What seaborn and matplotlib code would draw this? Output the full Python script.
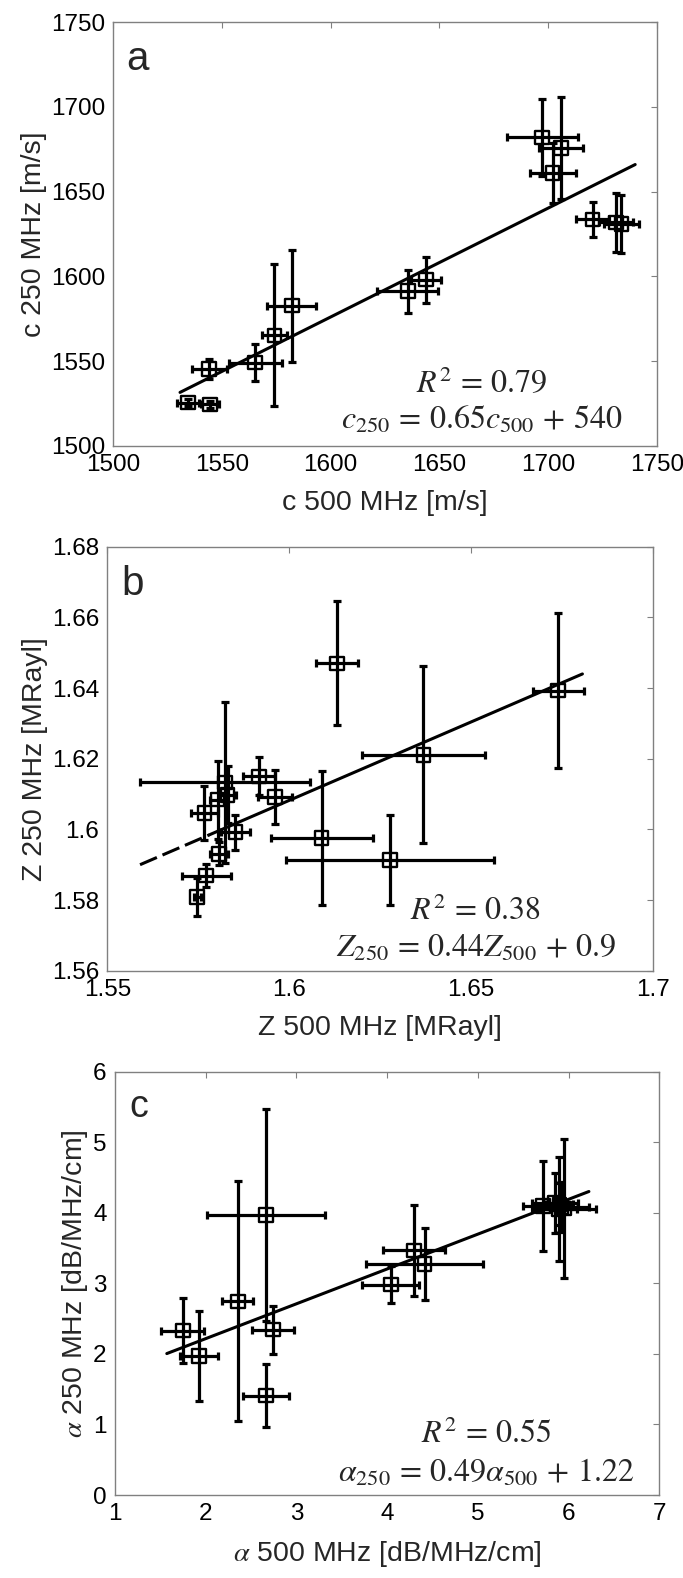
import numpy as np
import seaborn as sns
import matplotlib.pyplot as plt

# panel a: speed of sound [m/s]
c500 = [1534.4, 1544.4, 1544.1, 1565.2, 1574.1, 1582.1, 1635.5, 1643.9,
        1697.3, 1706.0, 1702.1, 1720.5, 1731.3, 1733.8]
c250 = [1525.5, 1524.4, 1545.2, 1549.1, 1565.2, 1582.7, 1591.3, 1598.0,
        1682.0, 1675.8, 1661.0, 1633.6, 1631.8, 1631.0]
c500_err = [5, 4, 8, 12.2, 5.8, 11.2, 14, 7, 16.4, 10, 10.6, 7.4, 8, 8]
c250_err = [2, 2, 6, 11, 42, 33, 12.7, 13.5, 22.5, 30, 17.7, 10.3, 17.4, 17.3]
fit_a = [0.6425, 548.0]
fit_a_x = [1530.7, 1740.1]

# panel b: acoustic impedance [MRayl]
z500 = [1.5747, 1.5772, 1.5807, 1.5767, 1.5803, 1.5831, 1.5823, 1.5852,
        1.5917, 1.5961, 1.6089, 1.6277, 1.6131, 1.6369, 1.6739]
z250 = [1.5808, 1.5869, 1.5931, 1.6046, 1.6084, 1.6098, 1.6133, 1.5992,
        1.6150, 1.6091, 1.5975, 1.5914, 1.6470, 1.6211, 1.6393]
z500_err = [0.001, 0.0067, 0.0026, 0.0038, 0.002, 0.0024, 0.0233, 0.004,
            0.0045, 0.0047, 0.014, 0.0287, 0.0057, 0.0169, 0.007]
z250_err = [0.0053, 0.0032, 0.0033, 0.0076, 0.011, 0.008, 0.0227, 0.005,
            0.0054, 0.0077, 0.019, 0.0127, 0.0175, 0.025, 0.0219]
fit_b = [0.444, 0.8978]
fit_b_dash_x = [1.559, 1.578]
fit_b_x = [1.578, 1.6806]

# panel c: attenuation [dB/MHz/cm]
a500 = [1.747, 1.927, 2.355, 2.665, 2.743, 2.665, 4.041, 4.298, 4.412,
        5.72, 5.85, 5.89, 5.92, 5.95, 5.90]
a250 = [2.330, 1.967, 2.745, 3.972, 2.344, 1.410, 2.981, 3.467, 3.278,
        4.10, 4.14, 4.05, 4.08, 4.06, 4.12]
a500_err = [0.235, 0.21, 0.17, 0.65, 0.235, 0.25, 0.314, 0.34, 0.65,
            0.22, 0.25, 0.20, 0.30, 0.35, 0.15]
a250_err = [0.46, 0.64, 1.70, 1.50, 0.34, 0.445, 0.26, 0.64, 0.51,
            0.64, 0.43, 0.74, 0.35, 0.98, 0.30]
fit_c = [0.4937, 1.229]
fit_c_x = [1.571, 6.224]

sns.set_theme(style='white')
plt.rcParams['font.family'] = ['Liberation Sans', 'DejaVu Sans']
plt.rcParams['mathtext.fontset'] = 'stix'

W, H = 683, 1578
fig = plt.figure(figsize=(W / 100, H / 100), dpi=100)


def make_axes(left, right, top, bottom):
    return fig.add_axes([left / W, 1 - bottom / H, (right - left) / W, (bottom - top) / H])


def draw_points(ax, x, y, xe, ye):
    ax.errorbar(x, y, xerr=xe, yerr=ye, fmt='none', ecolor='black',
                elinewidth=2.3, capsize=3, capthick=2.3, zorder=2)
    sns.scatterplot(x=x, y=y, marker='s', s=95, facecolor='none',
                    edgecolor='black', linewidth=1.7, ax=ax, zorder=3)


def draw_fit(ax, fit, xr, ls='-'):
    fx = np.array(xr)
    fy = fit[0] * fx + fit[1]
    sns.lineplot(x=fx, y=fy, color='black', lw=2.2, linestyle=ls, ax=ax, zorder=4)


def style(ax, xt, yt, xl, yl, xlab, ylab):
    ax.set_xlim(xl)
    ax.set_ylim(yl)
    ax.set_xticks(xt)
    ax.set_yticks(yt)
    ax.set_xticklabels([f'{v:g}' for v in xt])
    ax.set_yticklabels([f'{v:g}' for v in yt])
    ax.tick_params(direction='in', length=4, width=0.8, color='#808080',
                   top=True, right=True, labelsize=17.5, pad=6, labelcolor='black')
    for s in ax.spines.values():
        s.set_color('#808080')
        s.set_linewidth(1.0)
    ax.set_xlabel(xlab, fontsize=20.5, labelpad=10)
    ax.set_ylabel(ylab, fontsize=20.5, labelpad=2.5)


def annotate(ax, letter, lx, ly, lsize, cx, r2, eq):
    ax.text(lx, ly, letter, transform=ax.transAxes, fontsize=lsize, va='baseline', ha='left')
    ax.text(cx, r2[0], r2[1], transform=ax.transAxes, fontsize=23, ha='center', va='baseline')
    ax.text(cx, eq[0], eq[1], transform=ax.transAxes, fontsize=23, ha='center', va='baseline')


# panel a
ax = make_axes(113.3, 656.7, 22.3, 445.7)
draw_points(ax, c500, c250, c500_err, c250_err)
draw_fit(ax, fit_a, fit_a_x)
style(ax, np.arange(1500, 1751, 50), np.arange(1500, 1751, 50), (1500, 1750), (1500, 1750),
      'c 500 MHz [m/s]', 'c 250 MHz [m/s]')
annotate(ax, 'a', 0.023, 0.887, 29, 0.678,
         (0.124, r'$R^2\,=\,0.79$'), (0.039, r'$c_{250}\,=\,0.65c_{500}\,+\,540$'))

# panel b
ax = make_axes(107.3, 653.0, 546.7, 970.7)
draw_points(ax, z500, z250, z500_err, z250_err)
draw_fit(ax, fit_b, fit_b_dash_x, ls=(0, (6, 2)))
draw_fit(ax, fit_b, fit_b_x)
style(ax, [1.55, 1.6, 1.65, 1.7], [1.56, 1.58, 1.6, 1.62, 1.64, 1.66, 1.68],
      (1.55, 1.7), (1.56, 1.68), 'Z 500 MHz [MRayl]', 'Z 250 MHz [MRayl]')
annotate(ax, 'b', 0.026, 0.886, 29, 0.675,
         (0.12, r'$R^2\,=\,0.38$'), (0.033, r'$Z_{250}\,=\,0.44Z_{500}\,+\,0.9$'))

# panel c
ax = make_axes(115.0, 659.3, 1071.7, 1495.0)
draw_points(ax, a500, a250, a500_err, a250_err)
draw_fit(ax, fit_c, fit_c_x)
style(ax, list(range(1, 8)), list(range(0, 7)), (1, 7), (0, 6),
      r'$\alpha$ 500 MHz [dB/MHz/cm]', r'$\alpha$ 250 MHz [dB/MHz/cm]')
annotate(ax, 'c', 0.027, 0.893, 27, 0.682,
         (0.123, r'$R^2\,=\,0.55$'), (0.031, r'$\alpha_{250}\,=\,0.49\alpha_{500}\,+\,1.22$'))

fig.savefig('out.png', dpi=100)
